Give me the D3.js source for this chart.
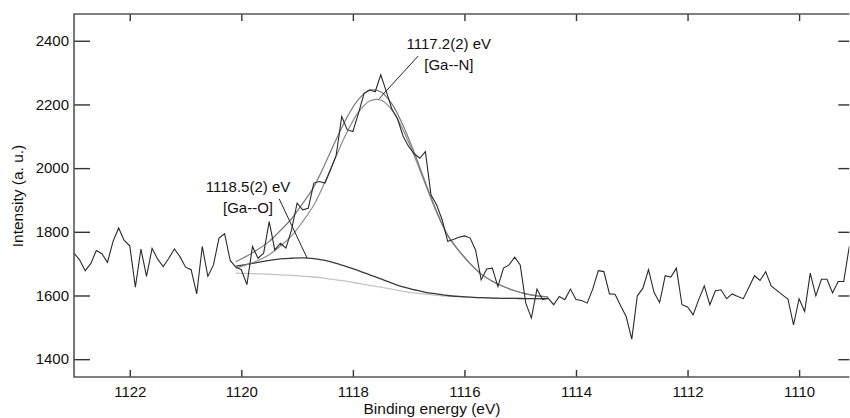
<!DOCTYPE html>
<html>
<head>
<meta charset="utf-8">
<script src="https://cdn.jsdelivr.net/npm/d3@7/dist/d3.min.js"></script>
<style>
  html, body { margin: 0; padding: 0; background: #fff; }
  svg { display: block; font-family: "Liberation Sans", Arial, Helvetica, sans-serif; }
</style>
</head>
<body>
<svg id="chart" width="850" height="418"></svg>
<script>
// ---------- data ----------
// Raw XPS spectrum: binding energy 1123.0 -> 1109.1 eV, step 0.1 eV
const energyStart = 1123.0;
const energyStep = -0.1;
const rawIntensity = [
  1733, 1712, 1678, 1700, 1741, 1731, 1704, 1770, 1812, 1773,
  1756, 1626, 1746, 1660, 1748, 1714, 1691, 1717, 1746, 1722,
  1689, 1681, 1605, 1754, 1660, 1696, 1780, 1794, 1710, 1689,
  1681, 1634, 1754, 1717, 1733, 1832, 1743, 1764, 1749, 1806,
  1890, 1869, 1874, 1953, 1958, 1953, 1995, 2040, 2162, 2120,
  2115, 2172, 2235, 2246, 2240, 2293, 2240, 2185, 2155, 2100,
  2068, 2045, 2031, 2052, 1916, 1885, 1838, 1770, 1776, 1783,
  1787, 1781, 1743, 1649, 1683, 1686, 1628, 1686, 1696, 1720,
  1696, 1576, 1529, 1620, 1587, 1592, 1571, 1597, 1587, 1620,
  1587, 1584, 1576, 1620, 1678, 1675, 1605, 1604, 1568, 1534,
  1463, 1599, 1623, 1681, 1609, 1578, 1662, 1658, 1686, 1571,
  1564, 1539, 1587, 1630, 1571, 1615, 1618, 1590, 1605, 1597,
  1590, 1626, 1662, 1647, 1675, 1630, 1616, 1602, 1589, 1508,
  1590, 1550, 1670, 1599, 1651, 1651, 1608, 1644, 1644, 1754
];

// Fit curves: binding energy 1120.1 -> 1114.5 eV, step 0.2 eV
const fitStart = 1120.1;
const fitStep = -0.2;
const background = [
  1670, 1669, 1668, 1667, 1665, 1663, 1661, 1658, 1654, 1649,
  1644, 1638, 1632, 1626, 1620, 1613, 1608, 1604, 1601, 1598,
  1596, 1594, 1593, 1592, 1591, 1591, 1590, 1590, 1590
];
const gaOComponent = [
  1692, 1698, 1704, 1710, 1715, 1717, 1718, 1716, 1710, 1701,
  1690, 1678, 1665, 1652, 1639, 1627, 1618, 1610, 1605, 1600,
  1597, 1595, 1593, 1592, 1591, 1591, 1590, 1590, 1590
];
const gaNComponent = [
  1686, 1697, 1710, 1728, 1755, 1787, 1832, 1884, 1957, 2038,
  2115, 2176, 2211, 2214, 2183, 2120, 2039, 1949, 1861, 1788,
  1740, 1700, 1667, 1645, 1628, 1615, 1605, 1599, 1596
];
const totalFit = [
  1706, 1724, 1745, 1770, 1804, 1841, 1889, 1941, 2013, 2090,
  2161, 2216, 2244, 2240, 2202, 2134, 2049, 1955, 1865, 1790,
  1741, 1701, 1667, 1645, 1628, 1615, 1605, 1599, 1596
];

const xTicks = [1122, 1120, 1118, 1116, 1114, 1112, 1110];
const yTicks = [1400, 1600, 1800, 2000, 2200, 2400];
const xDomain = [1123.0, 1109.1];
const yDomain = [1344, 2484];

const xTitle = "Binding energy (eV)";
const yTitle = "Intensity (a. u.)";

// annotations: label lines, anchor (energy, intensity), leader from -> to
const annotLines = [["1117.2(2) eV", "[Ga--N]"], ["1118.5(2) eV", "[Ga--O]"]];
const annotAnchorE = [1116.28, 1119.88];
const annotAnchorI = [2375, 1925];
const leaderFromE = [1116.83, 1119.32];
const leaderFromI = [2352, 1903];
const leaderToE = [1117.53, 1118.82];
const leaderToI = [2218, 1717];

// ---------- layout ----------
const W = 850, H = 418;
const margin = { left: 74, top: 14, right: 0.7, bottom: 41 };
const svg = d3.select("#chart");

const x = d3.scaleLinear().domain(xDomain).range([margin.left, W - margin.right]);
const y = d3.scaleLinear().domain(yDomain).range([H - margin.bottom, margin.top]);

const rawData = rawIntensity.map((v, i) => ({ e: energyStart + energyStep * i, v }));
const fitE = background.map((_, i) => fitStart + fitStep * i);
const toPts = arr => arr.map((v, i) => ({ e: fitE[i], v }));

const lineStraight = d3.line().x(d => x(d.e)).y(d => y(d.v));
const lineSmooth = d3.line().x(d => x(d.e)).y(d => y(d.v)).curve(d3.curveCatmullRom.alpha(0.5));

svg.append("clipPath").attr("id", "clip").append("rect")
  .attr("x", margin.left).attr("y", margin.top)
  .attr("width", x.range()[1] - margin.left).attr("height", y.range()[0] - margin.top);
const plot = svg.append("g").attr("clip-path", "url(#clip)");

// background (light gray)
plot.append("path").datum(toPts(background))
  .attr("d", lineSmooth).attr("fill", "none").attr("stroke", "#c4c4c4").attr("stroke-width", 1.3);
// Ga-O component (dark)
plot.append("path").datum(toPts(gaOComponent))
  .attr("d", lineSmooth).attr("fill", "none").attr("stroke", "#3a3a3a").attr("stroke-width", 1.3);
// Ga-N component (gray)
plot.append("path").datum(toPts(gaNComponent))
  .attr("d", lineSmooth).attr("fill", "none").attr("stroke", "#8a8a8a").attr("stroke-width", 1.2);
// total fit (gray)
plot.append("path").datum(toPts(totalFit))
  .attr("d", lineSmooth).attr("fill", "none").attr("stroke", "#7a7a7a").attr("stroke-width", 1.2);
// raw data
plot.append("path").datum(rawData)
  .attr("d", lineStraight).attr("fill", "none").attr("stroke", "#2a2a2a").attr("stroke-width", 1.1);

// ---------- annotations ----------
annotLines.forEach((lines, k) => {
  const ax = x(annotAnchorE[k]), ay = y(annotAnchorI[k]);
  const t = svg.append("text").attr("text-anchor", "middle").attr("font-size", 15).attr("fill", "#111");
  lines.forEach((s, j) => {
    t.append("tspan").attr("x", ax).attr("y", ay + j * 21).text(s);
  });
  svg.append("line")
    .attr("x1", x(leaderFromE[k])).attr("y1", y(leaderFromI[k]))
    .attr("x2", x(leaderToE[k])).attr("y2", y(leaderToI[k]))
    .attr("stroke", "#222").attr("stroke-width", 1);
});

// ---------- axes ----------
const axisColor = "#555";
const gB = svg.append("g").attr("transform", `translate(0,${y.range()[0]})`)
  .call(d3.axisBottom(x).tickValues(xTicks).tickFormat(d3.format("d")).tickSizeInner(-7).tickSizeOuter(0).tickPadding(9));
const gT = svg.append("g").attr("transform", `translate(0,${margin.top})`)
  .call(d3.axisTop(x).tickValues(xTicks).tickFormat("").tickSizeInner(-7).tickSizeOuter(0));
const gL = svg.append("g").attr("transform", `translate(${margin.left},0)`)
  .call(d3.axisLeft(y).tickValues(yTicks).tickFormat(d3.format("d")).tickSizeInner(-16).tickSizeOuter(0).tickPadding(5));
const gR = svg.append("g").attr("transform", `translate(${x.range()[1]},0)`)
  .call(d3.axisRight(y).tickValues(yTicks).tickFormat("").tickSizeInner(-11).tickSizeOuter(0));

[gB, gT, gL, gR].forEach(g => {
  g.select(".domain").remove();
  g.selectAll(".tick line").attr("stroke", "#333").attr("stroke-width", 1.4);
  g.selectAll(".tick text").attr("font-size", 15).attr("fill", "#111")
    .attr("font-family", "'Liberation Sans', Arial, sans-serif");
});

// frame
svg.append("path")
  .attr("d", `M${x.range()[1]},${margin.top}H${margin.left}V${y.range()[0]}H${x.range()[1]}`)
  .attr("fill", "none").attr("stroke", axisColor).attr("stroke-width", 1.6);

// titles
svg.append("text").attr("x", 432).attr("y", 414).attr("text-anchor", "middle")
  .attr("font-size", 15.5).attr("fill", "#111").text(xTitle);
svg.append("text").attr("transform", `translate(23,${196}) rotate(-90)`).attr("text-anchor", "middle")
  .attr("font-size", 15.5).attr("fill", "#111").text(yTitle);
</script>
</body>
</html>
